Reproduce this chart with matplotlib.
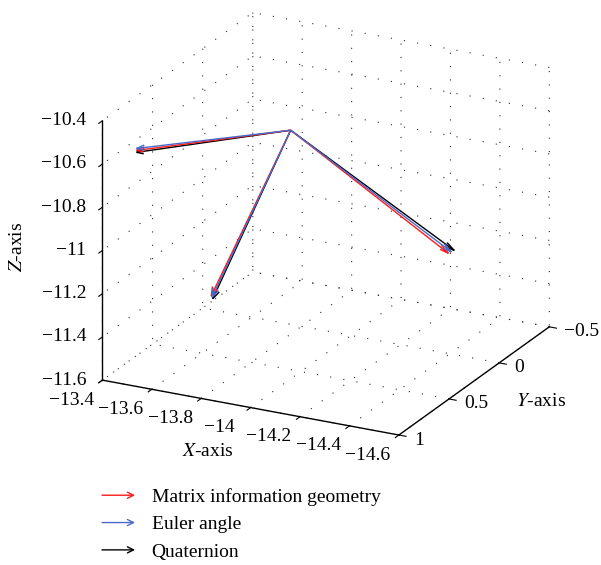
import numpy as np
import matplotlib
matplotlib.use('Agg')
import matplotlib.pyplot as plt
import matplotlib.transforms as mtransforms
from matplotlib.lines import Line2D
from matplotlib.patches import FancyArrowPatch
from matplotlib.legend_handler import HandlerBase
from mpl_toolkits.mplot3d import proj3d

plt.rcParams['font.family'] = ['Liberation Serif', 'DejaVu Serif']
plt.rcParams['mathtext.fontset'] = 'stix'
plt.rcParams['grid.linestyle'] = (0, (1, 11))
plt.rcParams['grid.color'] = '#2a2a2a'
plt.rcParams['grid.linewidth'] = 0.8
plt.rcParams['axes.unicode_minus'] = True

# ---- data ----
origin = [-13.766, 0.024, -10.692]
series_names = ['Matrix information geometry', 'Euler angle', 'Quaternion']
series_colors = ['#ff1a1a', '#4a6acb', '#000000']
# each series: three frame vectors (u, v, w components)
mig_u = [0.285, 0.317, -0.763]
mig_v = [0.835, 0.011, 0.308]
mig_w = [0.125, -0.829, -0.305]
euler_u = [0.285, 0.314, -0.775]
euler_v = [0.835, 0.011, 0.308]
euler_w = [0.134, -0.836, -0.296]
quat_u = [0.285, 0.311, -0.787]
quat_v = [0.835, 0.011, 0.308]
quat_w = [0.116, -0.842, -0.287]

xlim = (-14.6, -13.4)
ylim = (-0.5, 1)
zlim = (-11.6, -10.4)
xticks = [-14.6, -14.4, -14.2, -14.0, -13.8, -13.6, -13.4]
xticklabels = ['\u221214.6', '\u221214.4', '\u221214.2', '\u221214', '\u221213.8', '\u221213.6', '\u221213.4']
yticks = [-0.5, 0, 0.5, 1]
yticklabels = ['\u22120.5', '0', '0.5', '1']
zticks = [-11.6, -11.4, -11.2, -11.0, -10.8, -10.6, -10.4]
zticklabels = ['\u221211.6', '\u221211.4', '\u221211.2', '\u221211', '\u221210.8', '\u221210.6', '\u221210.4']

FS = 14


class HandlerArrow(HandlerBase):
    def create_artists(self, legend, orig_handle, xdescent, ydescent, width, height, fontsize, trans):
        y = height / 2.0 - ydescent
        arr = FancyArrowPatch((-xdescent, y), (-xdescent + width, y), arrowstyle='->',
                              mutation_scale=11, lw=1.0, color=orig_handle.get_color(),
                              shrinkA=0, shrinkB=0, transform=trans)
        return [arr]


fig = plt.figure(figsize=(6.01, 5.65), dpi=100)
ax = fig.add_axes([0.031, 0.152, 1.0, 0.88], projection='3d', proj_type='ortho')
ax.view_init(elev=21.4, azim=116.9)
ax.set_box_aspect((1, 1, 0.838), zoom=1.067)

vecs = [(mig_u, mig_v, mig_w), (euler_u, euler_v, euler_w), (quat_u, quat_v, quat_w)]
for (u, v, w), c in zip(vecs, series_colors):
    n = len(u)
    ax.quiver([origin[0]] * n, [origin[1]] * n, [origin[2]] * n, u, v, w,
              color=c, arrow_length_ratio=0.05, linewidth=1.0)

ax.set_xlim(*xlim)
ax.set_ylim(*ylim)
ax.set_zlim(*zlim)
ax.set_xticks(xticks)
ax.set_yticks(yticks)
ax.set_zticks(zticks)
ax.set_xticklabels([])
ax.set_yticklabels([])
ax.set_zticklabels([])
ax.zaxis.set_ticks_position('upper')

for axis in (ax.xaxis, ax.yaxis, ax.zaxis):
    axis.set_pane_color((1, 1, 1, 0))
    axis.pane.set_edgecolor((1, 1, 1, 0))
    axis.line.set_color('black')
    axis.line.set_linewidth(1.0)
    axis._axinfo['tick']['inward_factor'] = 0.3
    axis._axinfo['tick']['outward_factor'] = 0.0

fig.canvas.draw()
M = ax.get_proj()


def offset(dx_px, dy_px):
    # screen offset in pixels (dy positive = down)
    return ax.transData + mtransforms.ScaledTranslation(dx_px / 100.0, -dy_px / 100.0, fig.dpi_scale_trans)


def label_at(x, y, z, s, dx, dy, ha):
    px, py, _ = proj3d.proj_transform(x, y, z, M)
    ax.text2D(px, py, s, fontsize=FS, ha=ha, va='center', transform=offset(dx, dy))


# tick labels placed MATLAB-style next to the axis lines
for t, s in zip(xticks, xticklabels):
    label_at(t, ylim[1], zlim[0], s, -31, 20, 'center')
for t, s in zip(yticks, yticklabels):
    label_at(xlim[0], t, zlim[0], s, 15, 5, 'left')
for t, s in zip(zticks, zticklabels):
    label_at(xlim[1], ylim[1], t, s, -16, 0, 'right')

# axis labels
fig.text(208 / 601, 1 - 452 / 565, '$\\it{X}$-axis', fontsize=FS, ha='center', va='center')
fig.text(541 / 601, 1 - 401 / 565, '$\\it{Y}$-axis', fontsize=FS, ha='center', va='center')
fig.text(17 / 601, 1 - 247 / 565, '$\\it{Z}$-axis', fontsize=FS, ha='center', va='center', rotation=90)

handles = [Line2D([], [], color=c) for c in series_colors]
fig.legend(handles, series_names, loc='upper left', bbox_to_anchor=(0.1406, 0.167),
           frameon=False, fontsize=FS, handletextpad=0.85, labelspacing=0.5,
           handlelength=1.7, handler_map={Line2D: HandlerArrow()})

fig.savefig('out.png', dpi=100)
